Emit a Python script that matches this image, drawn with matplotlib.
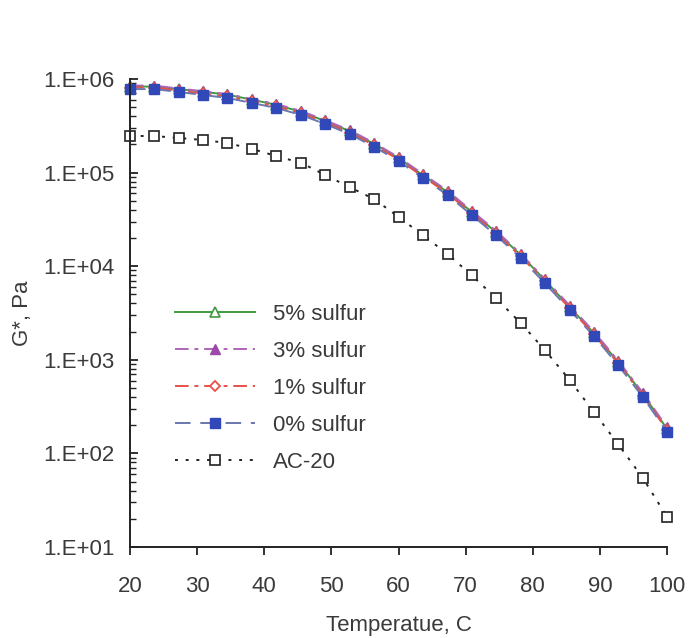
#!/usr/bin/env python3

import numpy as np
import matplotlib
matplotlib.use("Agg")
import matplotlib.pyplot as plt
from matplotlib.ticker import FuncFormatter, LogLocator

plt.rcParams["font.family"] = ["Liberation Sans", "DejaVu Sans"]

TEXT_COLOR = "#3a3a3a"
FONT_SIZE = 16

# test temperatures, C
temps = [20.0, 23.6, 27.3, 30.9, 34.5, 38.2, 41.8, 45.5, 49.1, 52.7, 56.4, 60.0,
         63.6, 67.3, 70.9, 74.5, 78.2, 81.8, 85.5, 89.1, 92.7, 96.4, 100.0]

# complex shear modulus G*, Pa
g_5pct = [8.3e5, 8.3e5, 7.8e5, 7.3e5, 6.8e5, 6.0e5, 5.3e5, 4.45e5, 3.55e5, 2.78e5,
          2.02e5, 1.43e5, 9.4e4, 6.2e4, 3.8e4, 2.32e4, 1.32e4, 7.1e3, 3.65e3,
          1.93e3, 950, 430, 183]
g_3pct = [8.5e5, 8.5e5, 7.9e5, 7.4e5, 6.9e5, 6.1e5, 5.4e5, 4.55e5, 3.62e5, 2.84e5,
          2.07e5, 1.46e5, 9.7e4, 6.4e4, 3.9e4, 2.4e4, 1.36e4, 7.3e3, 3.8e3,
          2.0e3, 980, 445, 190]
g_1pct = [8.1e5, 8.1e5, 7.5e5, 7.0e5, 6.5e5, 5.75e5, 5.1e5, 4.3e5, 3.43e5, 2.68e5,
          1.95e5, 1.38e5, 9.1e4, 6.0e4, 3.66e4, 2.24e4, 1.27e4, 6.9e3, 3.55e3,
          1.87e3, 915, 415, 177]
g_0pct = [7.8e5, 7.8e5, 7.26e5, 6.74e5, 6.27e5, 5.54e5, 4.9e5, 4.12e5, 3.3e5, 2.58e5,
          1.88e5, 1.33e5, 8.75e4, 5.76e4, 3.52e4, 2.15e4, 1.22e4, 6.6e3, 3.4e3,
          1.8e3, 880, 400, 170]
g_ac20 = [2.46e5, 2.46e5, 2.34e5, 2.23e5, 2.07e5, 1.79e5, 1.5e5, 1.27e5, 9.4e4, 7.0e4,
          5.2e4, 3.36e4, 2.15e4, 1.35e4, 8.0e3, 4.57e3, 2.47e3, 1.27e3, 608,
          277, 126, 54.6, 21]

fig = plt.figure(figsize=(6.9, 6.38), dpi=100)
ax = fig.add_axes([0.1884, 0.1426, 0.7783, 0.7336])

ax.plot(temps, g_5pct, "-", color="#3f9a3f", lw=1.4, marker="^", ms=7.5,
        mfc="white", mec="#3f9a3f", mew=1.2, label="5% sulfur")
ax.plot(temps, g_3pct, color="#b064b8", lw=1.4, dashes=(7, 3, 2, 3), marker="^",
        ms=7.5, mfc="#9c4aa8", mec="#9c4aa8", label="3% sulfur")
ax.plot(temps, g_1pct, color="#e8504a", lw=1.4, dashes=(7, 3, 2, 3), marker="D",
        ms=5.5, mfc="white", mec="#e8504a", mew=1.3, label="1% sulfur")
ax.plot(temps, g_0pct, color="#6a78b0", lw=1.4, dashes=(8, 5), marker="s", ms=7.5,
        mfc="#3048b8", mec="#3048b8", label="0% sulfur")
ax.plot(temps, g_ac20, color="#222222", lw=1.4, dashes=(1.5, 4), marker="s", ms=7,
        mfc="white", mec="#222222", mew=1.2, label="AC-20")

ax.set_yscale("log")
ax.set_xlim(20, 100)
ax.set_ylim(1e1, 1e6)
ax.set_xticks(range(20, 101, 10))
ax.yaxis.set_major_locator(LogLocator(base=10, numticks=10))
ax.yaxis.set_minor_locator(LogLocator(base=10, subs=np.arange(2, 10), numticks=10))
ax.yaxis.set_major_formatter(FuncFormatter(lambda v, pos: f"1.E+{int(round(np.log10(v))):02d}"))

for side in ("top", "right"):
    ax.spines[side].set_visible(False)
for side in ("left", "bottom"):
    ax.spines[side].set_color("#222222")
    ax.spines[side].set_linewidth(1.4)

ax.tick_params(axis="x", direction="out", length=6, width=1.3, colors="#222222",
               labelcolor=TEXT_COLOR, labelsize=FONT_SIZE, pad=15)
ax.tick_params(axis="y", which="major", direction="in", length=6, width=1.3,
               colors="#222222", labelcolor=TEXT_COLOR, labelsize=FONT_SIZE, pad=11)
ax.tick_params(axis="y", which="minor", direction="in", length=4, width=1.0,
               colors="#222222")

ax.set_xlabel("Temperatue, C", fontsize=FONT_SIZE, color=TEXT_COLOR)
ax.xaxis.set_label_coords(0.5, -0.167)
ax.xaxis.label.set_va("center")
ax.set_ylabel("G*, Pa", fontsize=FONT_SIZE, color=TEXT_COLOR)
ax.yaxis.set_label_coords(-0.2, 0.5)
ax.yaxis.label.set_va("center")

leg = ax.legend(loc="upper left", bbox_to_anchor=(0.084, 0.52), frameon=False,
                fontsize=FONT_SIZE, handlelength=3.6, handletextpad=0.8,
                labelspacing=0.72, borderpad=0, borderaxespad=0)
for t in leg.get_texts():
    t.set_color(TEXT_COLOR)

for line in ax.get_lines():
    line.set_clip_on(False)

fig.savefig("out.png", dpi=100)
